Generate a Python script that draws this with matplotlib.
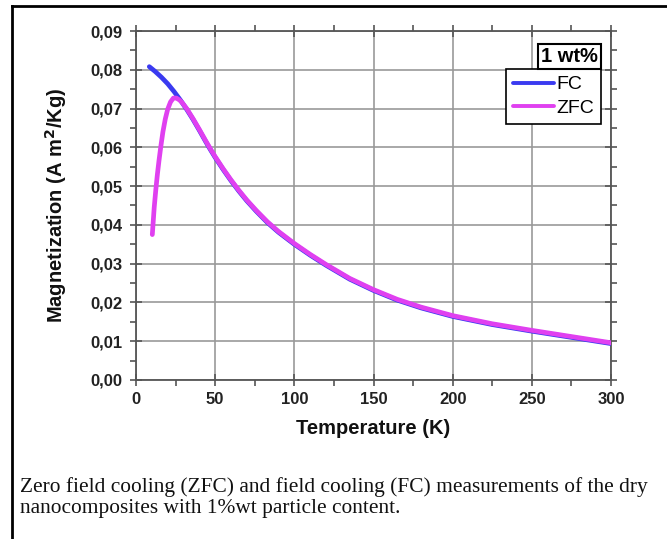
import matplotlib
matplotlib.use("Agg")
import matplotlib.pyplot as plt
from matplotlib.lines import Line2D
from matplotlib.ticker import MultipleLocator, FixedLocator

# ---- data ----
fc_T = [8.4, 12, 16, 20, 24, 28, 32, 36, 40, 44, 47, 50, 55, 60, 65, 70, 76, 83,
        90, 100, 110, 120, 135, 150, 165, 180, 200, 225, 250, 275, 300]
fc_M = [0.0808, 0.0796, 0.0781, 0.0764, 0.0744, 0.0722, 0.0698, 0.0672, 0.0644,
        0.0615, 0.0594, 0.0574, 0.0543, 0.0514, 0.0487, 0.0462, 0.0435, 0.0406,
        0.0381, 0.0350, 0.0322, 0.0296, 0.0260, 0.0231, 0.0206, 0.0186, 0.0164,
        0.0143, 0.0126, 0.0110, 0.0094]

zfc_T = [10.3, 11.5, 12.5, 13.5, 14.5, 15.6, 17.0, 18.5, 20.0, 21.8, 23.6, 25.5,
         27.5, 29, 32, 36, 40, 44, 47, 50, 55, 60, 65, 70, 76, 83, 90, 100, 110,
         120, 135, 150, 165, 180, 200, 225, 250, 275, 300]
zfc_M = [0.0375, 0.0445, 0.0490, 0.0530, 0.0565, 0.0600, 0.0640, 0.0673, 0.0698,
         0.0717, 0.0727, 0.0727, 0.0722, 0.0716, 0.0700, 0.0674, 0.0646, 0.0617,
         0.0596, 0.0576, 0.0545, 0.0516, 0.0489, 0.0464, 0.0437, 0.0408, 0.0383,
         0.0352, 0.0324, 0.0298, 0.0262, 0.0233, 0.0208, 0.0188, 0.0166, 0.0145,
         0.0128, 0.0112, 0.0096]

x_ticks = [0, 50, 100, 150, 200, 250, 300]
y_ticks = [0.00, 0.01, 0.02, 0.03, 0.04, 0.05, 0.06, 0.07, 0.08, 0.09]
y_tick_labels = ["0,00", "0,01", "0,02", "0,03", "0,04", "0,05", "0,06", "0,07", "0,08", "0,09"]

caption_lines = ["Zero field cooling (ZFC) and field cooling (FC) measurements of the dry",
                 "nanocomposites with 1%wt particle content."]

# ---- figure ----
W, H = 667, 539
fig = plt.figure(figsize=(W / 100, H / 100), dpi=100)
fig.patch.set_facecolor("white")

left, right, top, bottom = 136, 611, 31, 380
ax = fig.add_axes([left / W, 1 - bottom / H, (right - left) / W, (bottom - top) / H])

frame_col = "#555555"
ax.plot(fc_T, fc_M, color="#3a3af0", lw=3.4, solid_capstyle="round",
        solid_joinstyle="round", label="FC", zorder=3)
ax.plot(zfc_T, zfc_M, color="#e040f0", lw=3.4, solid_capstyle="round",
        solid_joinstyle="round", label="ZFC", zorder=4)

ax.set_xlim(0, 300)
ax.set_ylim(0, 0.09)
ax.xaxis.set_major_locator(FixedLocator(x_ticks))
ax.xaxis.set_minor_locator(MultipleLocator(25))
ax.yaxis.set_major_locator(FixedLocator(y_ticks))
ax.yaxis.set_minor_locator(MultipleLocator(0.005))
ax.set_yticklabels(y_tick_labels)
ax.set_xticklabels([str(t) for t in x_ticks])

ax.grid(True, which="major", color="#999999", lw=1.2, zorder=0)
ax.set_axisbelow(True)

for s in ax.spines.values():
    s.set_color(frame_col)
    s.set_linewidth(1.3)

ax.tick_params(which="major", direction="inout", length=9, width=1.2, color=frame_col,
               top=True, right=True, labelsize=12)
ax.tick_params(axis="y", which="major", pad=5)
ax.tick_params(axis="x", which="major", pad=4)
ax.tick_params(which="minor", direction="out", length=4, width=1.2, color=frame_col,
               top=True, right=True)
for lab in ax.get_xticklabels() + ax.get_yticklabels():
    lab.set_fontweight("bold")
    lab.set_family("Liberation Sans")
    lab.set_color("#222222")

ax.set_xlabel("Temperature (K)", fontsize=14.5, fontweight="bold", family="Liberation Sans",
              color="#111111")
ax.set_ylabel("Magnetization (A m$^\\mathbf{2}$/Kg)", fontsize=14.5, fontweight="bold",
              family="Liberation Sans", color="#111111")
ax.xaxis.set_label_coords(0.5, -0.112)
ax.yaxis.set_label_coords(-0.142, 0.5)

# "1 wt%" title box
ax.text(0.9726, 0.891 + 0.010, "1 wt%", transform=ax.transAxes, ha="right", va="bottom",
        fontsize=14.5, fontweight="bold", family="Liberation Sans", zorder=6,
        bbox=dict(boxstyle="square,pad=0.15", fc="white", ec="black", lw=1.5))

leg = ax.legend(loc="upper right", bbox_to_anchor=(0.979, 0.891), frameon=True,
                fancybox=False, edgecolor="black", framealpha=1,
                prop=dict(family="Liberation Sans", size=14),
                handlelength=2.1, handletextpad=0.15, borderpad=0.35,
                labelspacing=0.3, borderaxespad=0)
leg.get_frame().set_linewidth(1.2)
for ln in leg.get_lines():
    ln.set_linewidth(2.8)
leg.set_zorder(5)

# caption
fig.text(20 / W, 1 - 492 / H, caption_lines[0], ha="left", va="baseline", fontsize=15.4,
         family="Liberation Serif", color="#111111")
fig.text(20 / W, 1 - 513 / H, caption_lines[1], ha="left", va="baseline", fontsize=15.4,
         family="Liberation Serif", color="#111111")

# figure frame (left and top edges)
fig.add_artist(Line2D([12 / W, 12 / W], [0, 1 - 6 / H], transform=fig.transFigure,
                      color="black", lw=2))
fig.add_artist(Line2D([12 / W, 1], [1 - 6 / H, 1 - 6 / H], transform=fig.transFigure,
                      color="black", lw=2))

fig.savefig("out.png", dpi=100)
